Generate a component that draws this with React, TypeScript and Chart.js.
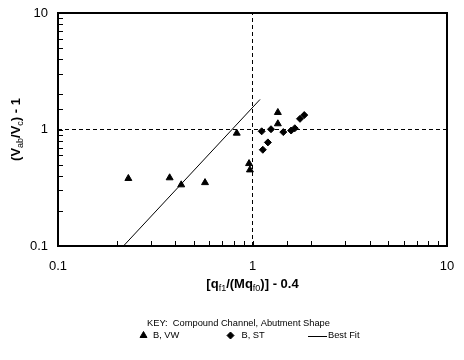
import React, { useEffect, useRef } from "react";
import { Chart, registerables } from "chart.js";
import { drawPoint } from "chart.js/helpers";

Chart.register(...registerables);

// ---------- data ----------
const triX = [0.23, 0.375, 0.43, 0.57, 0.83, 0.96, 0.97, 1.35, 1.35];
const triY = [0.38, 0.385, 0.335, 0.35, 0.93, 0.51, 0.45, 1.4, 1.12];

const diaX = [1.115, 1.13, 1.2, 1.245, 1.44, 1.58, 1.65, 1.755, 1.845];
const diaY = [0.965, 0.67, 0.775, 1.005, 0.95, 0.98, 1.025, 1.235, 1.33];

const fitX = [0.217, 1.093];
const fitY = [0.1, 1.81];

const refValue = 1;
const axisMin = 0.1;
const axisMax = 10;
const tickValues = [0.1, 1, 10];
const tickLabels = ["0.1", "1", "10"];

const seriesNames = ["B, VW", "B, ST", "Best Fit"];
const legendTitle = "KEY:  Compound Channel, Abutment Shape";
const yTitleParts = [
  { t: "(V" },
  { t: "ab", sub: true },
  { t: "/V" },
  { t: "c", sub: true },
  { t: ") - 1" },
];
const xTitleParts = [
  { t: "[q" },
  { t: "f1", sub: true },
  { t: "/(Mq" },
  { t: "f0", sub: true },
  { t: ")] - 0.4" },
];

const FONT = '"Liberation Sans", Arial, Helvetica, sans-serif';

const toPoints = (xs: number[], ys: number[]) => xs.map((x, i) => ({ x, y: ys[i] }));

function tickCallback(value: any) {
  const v = Number(value);
  for (let i = 0; i < tickValues.length; i++) {
    if (Math.abs(v - tickValues[i]) < tickValues[i] * 1e-6) return tickLabels[i];
  }
  return "";
}

function drawRich(
  ctx: CanvasRenderingContext2D,
  parts: { t: string; sub?: boolean }[],
  cx: number,
  cy: number,
  size: number
) {
  const main = `bold ${size}px ${FONT}`;
  const sub = `${Math.round(size * 0.72)}px ${FONT}`;
  const widths = parts.map((p) => {
    ctx.font = p.sub ? sub : main;
    return ctx.measureText(p.t).width;
  });
  const total = widths.reduce((a, b) => a + b, 0);
  let x = cx - total / 2;
  const base = cy + size * 0.36;
  ctx.textAlign = "left";
  ctx.textBaseline = "alphabetic";
  parts.forEach((p, i) => {
    ctx.font = p.sub ? sub : main;
    ctx.fillText(p.t, x, p.sub ? base + size * 0.22 : base);
    x += widths[i];
  });
}

const framePlugin = {
  id: "frame",
  afterDatasetsDraw(chart: any) {
    const { ctx, chartArea } = chart;
    const xs = chart.scales.x;
    const ys = chart.scales.y;
    const { left, right, top, bottom } = chartArea;
    ctx.save();
    ctx.strokeStyle = "#000";
    ctx.lineWidth = 1;
    ctx.beginPath();
    xs.ticks.forEach((t: any) => {
      if (t.value <= axisMin || t.value >= axisMax) return;
      const px = Math.round(xs.getPixelForValue(t.value)) + 0.5;
      ctx.moveTo(px, bottom);
      ctx.lineTo(px, bottom - 5);
    });
    ys.ticks.forEach((t: any) => {
      if (t.value <= axisMin || t.value >= axisMax) return;
      const py = Math.round(ys.getPixelForValue(t.value)) + 0.5;
      ctx.moveTo(left, py);
      ctx.lineTo(left + 5, py);
    });
    ctx.stroke();
    ctx.lineWidth = 2;
    ctx.strokeRect(left, top, right - left, bottom - top);
    ctx.restore();
  },
  afterDraw(chart: any) {
    const { ctx, chartArea } = chart;
    const { left, right, top, bottom } = chartArea;
    ctx.save();
    ctx.fillStyle = "#000";
    ctx.save();
    ctx.translate(15, (top + bottom) / 2);
    ctx.rotate(-Math.PI / 2);
    drawRich(ctx, yTitleParts, 0, 0, 13);
    ctx.restore();
    drawRich(ctx, xTitleParts, (left + right) / 2, 283, 13);

    ctx.font = `9.3px ${FONT}`;
    ctx.textAlign = "left";
    ctx.textBaseline = "middle";
    ctx.fillText(legendTitle, 147, 323);
    const rowY = 335.5;
    const opts = (style: string, r: number) => ({
      pointStyle: style,
      radius: r,
      rotation: 0,
      borderWidth: 1,
    });
    ctx.strokeStyle = "#000";
    ctx.fillStyle = "#000";
    drawPoint(ctx, opts("triangle", 4) as any, 143.5, rowY);
    ctx.fillText(seriesNames[0], 153, rowY);
    ctx.strokeStyle = "#000";
    ctx.fillStyle = "#000";
    drawPoint(ctx, opts("rectRot", 3.5) as any, 230.5, rowY);
    ctx.fillText(seriesNames[1], 241.5, rowY);
    ctx.lineWidth = 1;
    ctx.beginPath();
    ctx.moveTo(308, Math.round(rowY) + 0.5);
    ctx.lineTo(327, Math.round(rowY) + 0.5);
    ctx.stroke();
    ctx.fillText(seriesNames[2], 328, rowY);
    ctx.restore();
  },
};

const zeroPad = (s: any) => {
  s.paddingTop = 0;
  s.paddingBottom = 0;
  s.paddingLeft = 0;
  s.paddingRight = 0;
};

export default function App() {
  const ref = useRef<HTMLCanvasElement | null>(null);

  useEffect(() => {
    if (!ref.current) return;
    const chart = new Chart(ref.current, {
      type: "scatter",
      data: {
        datasets: [
          {
            label: "ref-x",
            data: [
              { x: refValue, y: axisMin },
              { x: refValue, y: axisMax },
            ],
            showLine: true,
            borderColor: "#000",
            borderWidth: 1,
            borderDash: [4, 3],
            pointRadius: 0,
          },
          {
            label: "ref-y",
            data: [
              { x: axisMin, y: refValue },
              { x: axisMax, y: refValue },
            ],
            showLine: true,
            borderColor: "#000",
            borderWidth: 1,
            borderDash: [4, 3],
            pointRadius: 0,
          },
          {
            label: seriesNames[2],
            data: toPoints(fitX, fitY),
            showLine: true,
            borderColor: "#000",
            borderWidth: 1,
            pointRadius: 0,
          },
          {
            label: seriesNames[0],
            data: toPoints(triX, triY),
            pointStyle: "triangle",
            pointRadius: 4,
            backgroundColor: "#000",
            borderColor: "#000",
            borderWidth: 1,
          },
          {
            label: seriesNames[1],
            data: toPoints(diaX, diaY),
            pointStyle: "rectRot",
            pointRadius: 3.5,
            backgroundColor: "#000",
            borderColor: "#000",
            borderWidth: 1,
          },
        ],
      } as any,
      options: {
        animation: false,
        responsive: false,
        events: [],
        layout: { padding: { top: 13, right: 17, bottom: 84, left: 0 } },
        plugins: {
          legend: { display: false },
          tooltip: { enabled: false },
        },
        scales: {
          x: {
            type: "logarithmic",
            min: axisMin,
            max: axisMax,
            grid: { display: false, drawTicks: false },
            border: { display: false },
            ticks: {
              autoSkip: false,
              maxRotation: 0,
              minRotation: 0,
              padding: 13,
              color: "#000",
              font: { family: FONT, size: 13 },
              callback: tickCallback,
            },
            afterFit: (s: any) => {
              s.height = 30;
              zeroPad(s);
            },
          },
          y: {
            type: "logarithmic",
            min: axisMin,
            max: axisMax,
            grid: { display: false, drawTicks: false },
            border: { display: false },
            ticks: {
              autoSkip: false,
              padding: 10,
              color: "#000",
              font: { family: FONT, size: 13 },
              callback: tickCallback,
            },
            afterFit: (s: any) => {
              s.width = 58;
              zeroPad(s);
            },
          },
        },
      } as any,
      plugins: [framePlugin],
    });
    return () => chart.destroy();
  }, []);

  return (
    <div style={{ position: "absolute", left: 0, top: 0, width: 464, height: 360, background: "#fff" }}>
      <canvas ref={ref} width={464} height={360} style={{ width: 464, height: 360 }} />
    </div>
  );
}
